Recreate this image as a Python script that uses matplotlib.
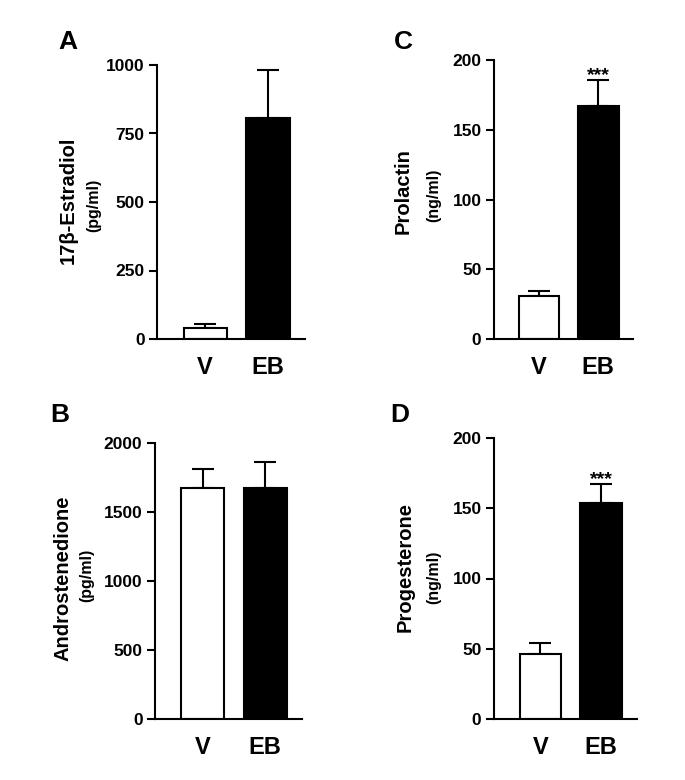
import matplotlib
matplotlib.use("Agg")
import matplotlib.pyplot as plt
import numpy as np

plt.rcParams['font.family'] = ['Liberation Sans', 'DejaVu Sans']
plt.rcParams['font.weight'] = 'bold'

groups = ["V", "EB"]

estradiol = [40, 805]
estradiol_err = [15, 178]
androstenedione = [1671, 1671]
androstenedione_err = [137, 191]
prolactin = [31, 167]
prolactin_err = [3.5, 18.5]
progesterone = [46, 153.5]
progesterone_err = [8, 14]

W, H = 685, 780
fig = plt.figure(figsize=(W / 100, H / 100), dpi=100)


def px_axes(x0, x1, ytop, ybot):
    return fig.add_axes([x0 / W, 1 - ybot / H, (x1 - x0) / W, (ybot - ytop) / H])


panels = [
    dict(box=(157, 305, 65, 339), vals=estradiol, err=estradiol_err, ymax=1000,
         ticks=[0, 250, 500, 750, 1000], label="17β-Estradiol", unit="(pg/ml)",
         lab_x=68, unit_x=94, lab_y=200, unit_y=205, letter="A", let_xy=(68, 42), stars=False),
    dict(box=(494, 633, 60, 339), vals=prolactin, err=prolactin_err, ymax=200,
         ticks=[0, 50, 100, 150, 200], label="Prolactin", unit="(ng/ml)",
         lab_x=403, unit_x=434, lab_y=191, unit_y=195, letter="C", let_xy=(403, 42), stars=True),
    dict(box=(155, 302, 443, 719), vals=androstenedione, err=androstenedione_err, ymax=2000,
         ticks=[0, 500, 1000, 1500, 2000], label="Androstenedione", unit="(pg/ml)",
         lab_x=63, unit_x=87, lab_y=578, unit_y=575, letter="B", let_xy=(60, 415), stars=False),
    dict(box=(494, 637, 438, 719), vals=progesterone, err=progesterone_err, ymax=200,
         ticks=[0, 50, 100, 150, 200], label="Progesterone", unit="(ng/ml)",
         lab_x=405, unit_x=434, lab_y=567, unit_y=577, letter="D", let_xy=(400, 415), stars=True),
]

xpos = np.array([0.78, 1.80])
for p in panels:
    x0, x1, yt, yb = p["box"]
    ax = px_axes(x0, x1, yt, yb)
    ax.bar(xpos, p["vals"], width=0.70, color=["white", "black"], edgecolor="black",
           linewidth=1.5, zorder=2)
    ax.errorbar(xpos, p["vals"], yerr=[np.zeros(2), p["err"]], fmt="none", ecolor="black",
                elinewidth=1.5, capsize=8, capthick=1.5, zorder=1)
    ax.set_xlim(0, 2.4)
    ax.set_ylim(0, p["ymax"])
    ax.set_yticks(p["ticks"])
    ax.set_xticks(xpos)
    ax.set_xticklabels(groups, fontsize=17, fontweight="bold")
    for lbl in ax.get_yticklabels():
        lbl.set_fontsize(12.5)
        lbl.set_fontweight("bold")
    ax.tick_params(axis="x", length=0, pad=12)
    ax.tick_params(axis="y", length=6, width=1.5, direction="out", pad=3)
    for s in ["top", "right"]:
        ax.spines[s].set_visible(False)
    for s in ["left", "bottom"]:
        ax.spines[s].set_linewidth(1.5)
    if p["stars"]:
        ax.annotate("***", xy=(xpos[1], p["vals"][1] + p["err"][1]), xytext=(0, -3),
                    textcoords="offset points", ha="center", va="bottom",
                    fontsize=14, fontweight="bold")
    fig.text(p["lab_x"] / W, 1 - p["lab_y"] / H, p["label"], rotation=90, ha="center",
             va="center", fontsize=14.5, fontweight="bold")
    fig.text(p["unit_x"] / W, 1 - p["unit_y"] / H, p["unit"], rotation=90, ha="center",
             va="center", fontsize=11.5, fontweight="bold")
    fig.text(p["let_xy"][0] / W, 1 - p["let_xy"][1] / H, p["letter"], ha="center",
             va="center", fontsize=19, fontweight="bold")

fig.savefig("out.png", dpi=100, facecolor="white")
